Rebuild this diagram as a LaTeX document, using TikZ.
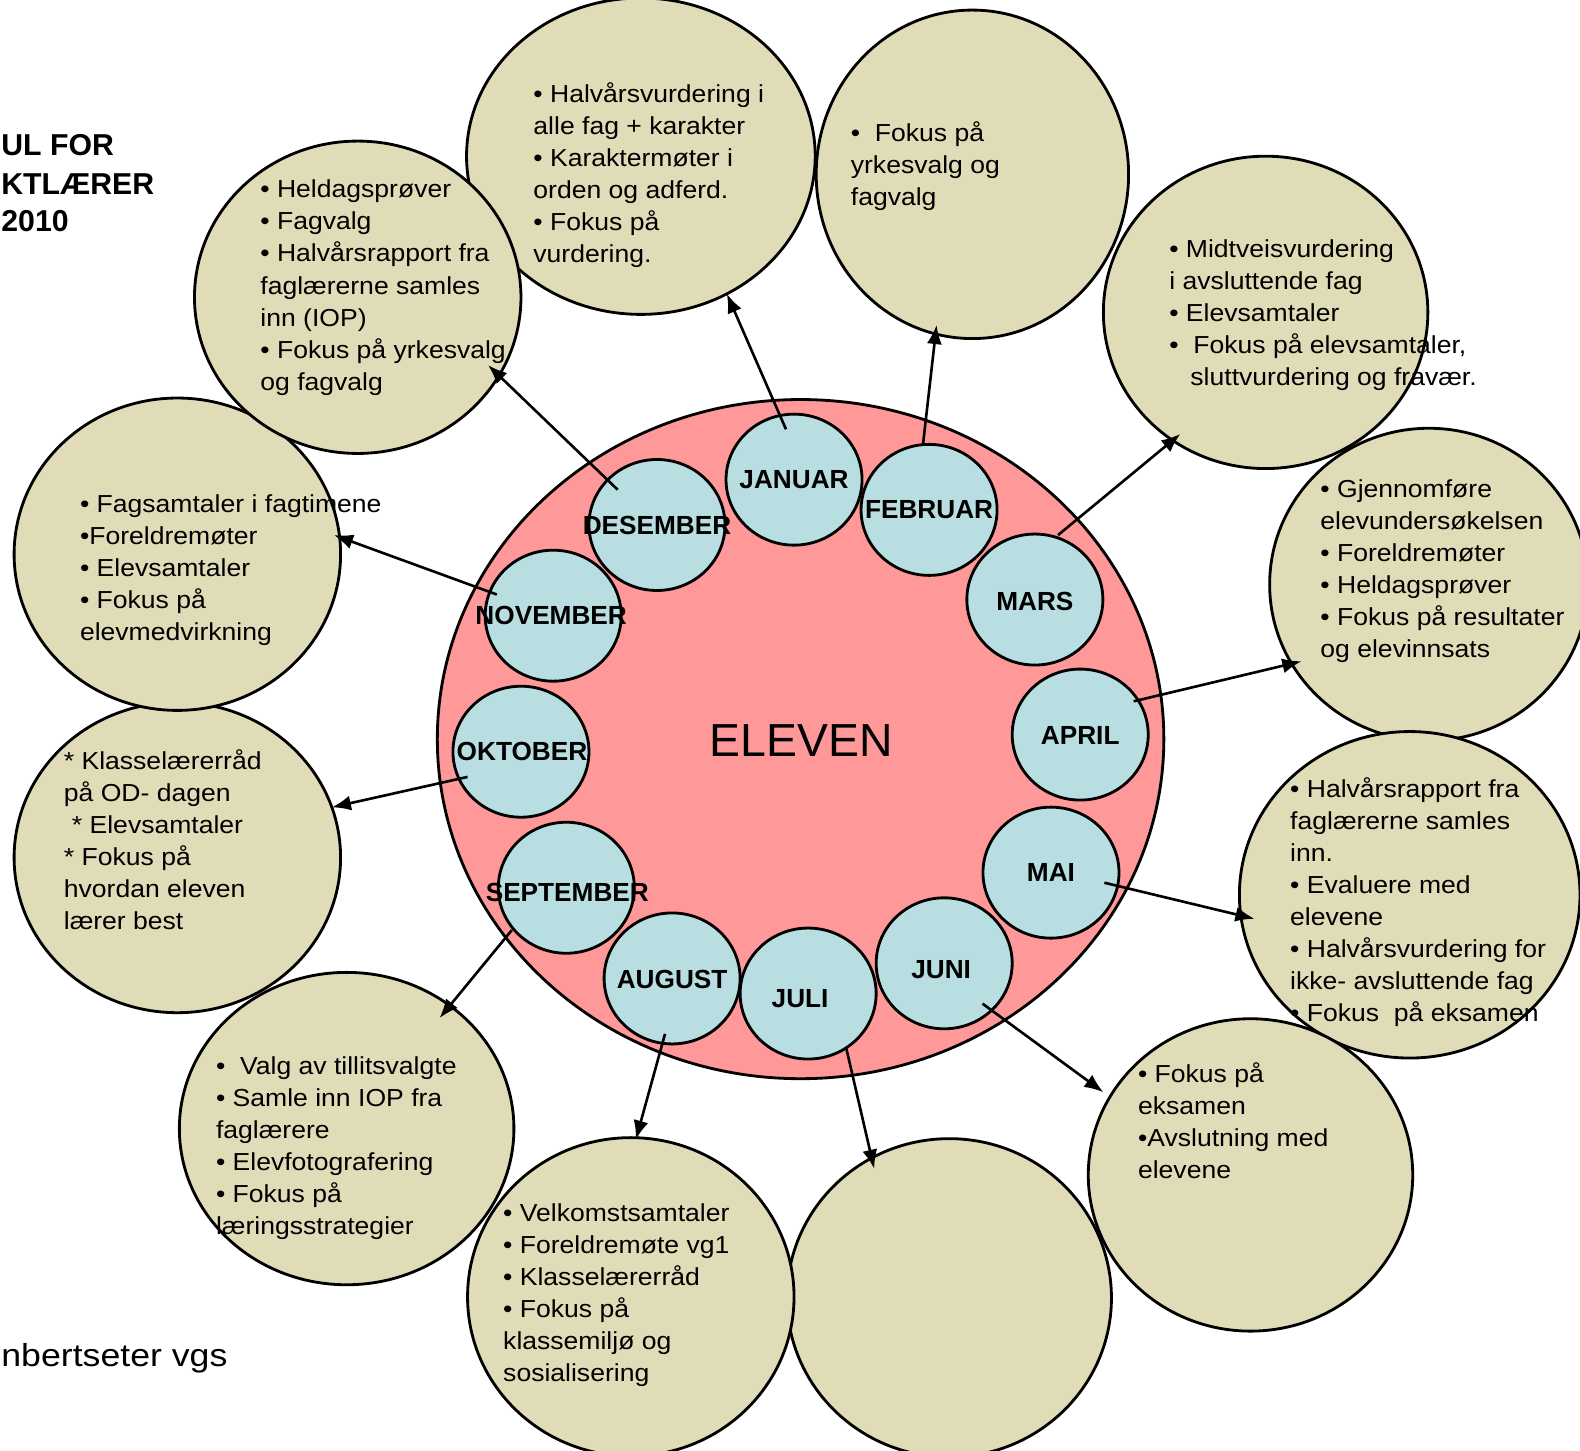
\documentclass[tikz,border=0pt]{standalone}
\usepackage{fontspec}
\setmainfont{Liberation Sans}
\newfontfamily\bodyf{Liberation Sans}[FakeStretch=1.08]
\newfontfamily\widef{Liberation Sans}[FakeStretch=1.12]
\usetikzlibrary{shapes.geometric,arrows.meta}
\definecolor{tanfill}{RGB}{225,220,184}
\definecolor{pinkfill}{RGB}{255,153,153}
\definecolor{bluefill}{RGB}{184,222,226}
\newcommand\mystrutA{\rule{0pt}{12pt}}
\begin{document}
\begin{tikzpicture}[x=0.5pt,y=-0.5pt,
  tanc/.style={ellipse, draw=black, line width=1.4pt, fill=tanfill, inner sep=0pt, outer sep=0pt},
  monthc/.style={ellipse, draw=black, line width=1.4pt, fill=bluefill, inner sep=0pt, outer sep=0pt, minimum width=67.5pt, minimum height=65pt},
  mlabel/.style={font=\fontsize{13}{15}\selectfont\bfseries, inner sep=0pt},
  body/.style={font=\bodyf\fontsize{12.2}{15.9}\selectfont, align=left, inner sep=0pt, anchor=north west},
  titletext/.style={font=\fontsize{15}{19}\selectfont\bfseries, inner sep=0pt, anchor=base west},
  arr/.style={line width=1.3pt, -{Latex[length=9.5pt,width=7.5pt]}}
]
\useasboundingbox (0,0) rectangle (1568,1439);

% text circles
\node[tanc, minimum width=173pt, minimum height=157pt] (jant) at (636,155) {};
\node[tanc, minimum width=155pt, minimum height=163pt] (febt) at (965,173) {};
\node[tanc, minimum width=161pt, minimum height=155pt] (mart) at (1256,310) {};
\node[tanc, minimum width=158pt, minimum height=155pt] (aprt) at (1418,580) {};
\node[tanc, minimum width=169pt, minimum height=162pt] (mait) at (1399,888) {};
\node[tanc, minimum width=161pt, minimum height=155pt] (junt) at (1241,1166) {};
\node[tanc, minimum width=161pt, minimum height=158pt] (jult) at (942,1288) {};
\node[tanc, minimum width=162pt, minimum height=158pt] (augt) at (626,1287) {};
\node[tanc, minimum width=166pt, minimum height=155pt] (sept) at (344,1120) {};
\node[tanc, minimum width=162pt, minimum height=154pt] (octt) at (176,851) {};
\node[tanc, minimum width=162pt, minimum height=155pt] (novt) at (176,550) {};
\node[tanc, minimum width=162pt, minimum height=155pt] (dect) at (355,295) {};

% central circle
\node[ellipse, draw=black, line width=1.4pt, fill=pinkfill, inner sep=0pt, outer sep=0pt,
      minimum width=360.5pt, minimum height=337pt] (eleven) at (794.5,733.5) {};
\node[font=\fontsize{23}{27}\selectfont, inner sep=0pt] (elevenlbl) at (795,735) {ELEVEN};

% month circles
\node[monthc] (jan) at (788,476) {};
\node[monthc] (feb) at (922,506) {};
\node[monthc] (mar) at (1027,595) {};
\node[monthc] (apr) at (1072,729) {};
\node[monthc] (mai) at (1043,866) {};
\node[monthc] (jun) at (937,956) {};
\node[monthc] (jul) at (802,986) {};
\node[monthc] (aug) at (667,971) {};
\node[monthc] (sep) at (562,881) {};
\node[monthc] (okt) at (517,746) {};
\node[monthc] (nov) at (549,611) {};
\node[monthc] (des) at (652,521) {};

% arrow start points
\coordinate (sjan) at (780,426);
\coordinate (sfeb) at (916,441);
\coordinate (smar) at (1050,531);
\coordinate (sapr) at (1125,696);
\coordinate (smai) at (1096,876);
\coordinate (sjun) at (975,996);
\coordinate (sjul) at (840,1041);
\coordinate (saug) at (660,1026);
\coordinate (ssep) at (508,923);
\coordinate (sokt) at (464,771);
\coordinate (snov) at (493,590);
\coordinate (sdes) at (613,486);

\draw[arr] (sjan) -- (jant.-58.5);
\draw[arr, shorten >=-4.5pt] (sfeb) -- (febt.-103.6);
\draw[arr, shorten >=-5pt] (smar) -- (mart.-126.7);
\draw[arr, shorten >=-5pt] (sapr) -- (aprt.-150.6);
\draw[arr, shorten >=-7pt] (smai) -- (mait.-173.7);
\draw[arr, shorten >=4pt] (sjun) -- (junt.151.1);
\draw[arr, shorten >=-5.5pt] (sjul) -- (jult.119.5);
\draw[arr, shorten >=-1pt] (saug) -- (augt.88.5);
\draw[arr, shorten >=-8pt] (ssep) -- (sept.50.4);
\draw[arr] (sokt) -- (octt.18.5);
\draw[arr, shorten >=-3pt] (snov) -- (novt.6.3);
\draw[arr, shorten >=-7.5pt] (sdes) -- (dect.-29.2);

% month labels
\node[mlabel] (ljan) at (788,476) {JANUAR};
\node[mlabel] (lfeb) at (922,506) {FEBRUAR};
\node[mlabel] (lmar) at (1027,597) {MARS};
\node[mlabel] (lapr) at (1072,730) {APRIL};
\node[mlabel] (lmai) at (1043,866) {MAI};
\node[mlabel] (ljun) at (934,962) {JUNI};
\node[mlabel] (ljul) at (794,991) {JULI};
\node[mlabel] (laug) at (667,972) {AUGUST};
\node[mlabel] (lsep) at (563,886) {SEPTEMBER};
\node[mlabel] (lokt) at (518,746) {OKTOBER};
\node[mlabel] (lnov) at (547,611) {NOVEMBER};
\node[mlabel] (ldes) at (652,521) {DESEMBER};

% texts in the circles
\node[body] (tjan) at (529,77) {\mystrutA• Halvårsvurdering i\\alle fag + karakter\\• Karaktermøter i\\orden og adferd.\\• Fokus på\\vurdering.};
\node[body] (tfeb) at (844,116) {\mystrutA•\ \ Fokus på\\yrkesvalg og\\fagvalg};
\node[body] (tmar) at (1160,231) {\mystrutA• Midtveisvurdering\\i avsluttende fag\\• Elevsamtaler\\•\ \ Fokus på elevsamtaler,\\\hspace*{10.5pt}sluttvurdering og fravær.};
\node[body] (tapr) at (1310,469) {\mystrutA• Gjennomføre\\elevundersøkelsen\\• Foreldremøter\\• Heldagsprøver\\• Fokus på resultater\\og elevinnsats};
\node[body] (tmai) at (1280,767) {\mystrutA• Halvårsrapport fra\\faglærerne samles\\inn.\\• Evaluere med\\elevene\\• Halvårsvurdering for\\ikke- avsluttende fag\\• Fokus\ \ på eksamen};
\node[body] (tjun) at (1129,1050) {\mystrutA• Fokus på\\eksamen\\•Avslutning med\\elevene};
\node[body] (taug) at (499,1188) {\mystrutA• Velkomstsamtaler\\• Foreldremøte vg1\\• Klasselærerråd\\• Fokus på\\klassemiljø og\\sosialisering};
\node[body] (tsep) at (214,1042) {\mystrutA•\ \ Valg av tillitsvalgte\\• Samle inn IOP fra\\faglærere\\• Elevfotografering\\• Fokus på\\læringsstrategier};
\node[body] (tokt) at (63,739) {\mystrutA* Klasselærerråd\\på OD- dagen\\\hspace*{4pt}* Elevsamtaler\\* Fokus på\\hvordan eleven\\lærer best};
\node[body] (tnov) at (79,484) {\mystrutA• Fagsamtaler i fagtimene\\•Foreldremøter\\• Elevsamtaler\\• Fokus på\\elevmedvirkning};
\node[body] (tdes) at (258,172) {\mystrutA• Heldagsprøver\\• Fagvalg\\• Halvårsrapport fra\\faglærerne samles\\inn (IOP)\\• Fokus på yrkesvalg\\og fagvalg};

% title and footer
\node[titletext] (title1) at (1,154) {UL FOR};
\node[titletext] (title2) at (1,193) {KTLÆRER};
\node[titletext] (title3) at (1,230) {2010};
\node[font=\widef\fontsize{15.8}{19}\selectfont, inner sep=0pt, anchor=base west] (footer) at (1,1356) {nbertseter vgs};
\end{tikzpicture}
\end{document}
